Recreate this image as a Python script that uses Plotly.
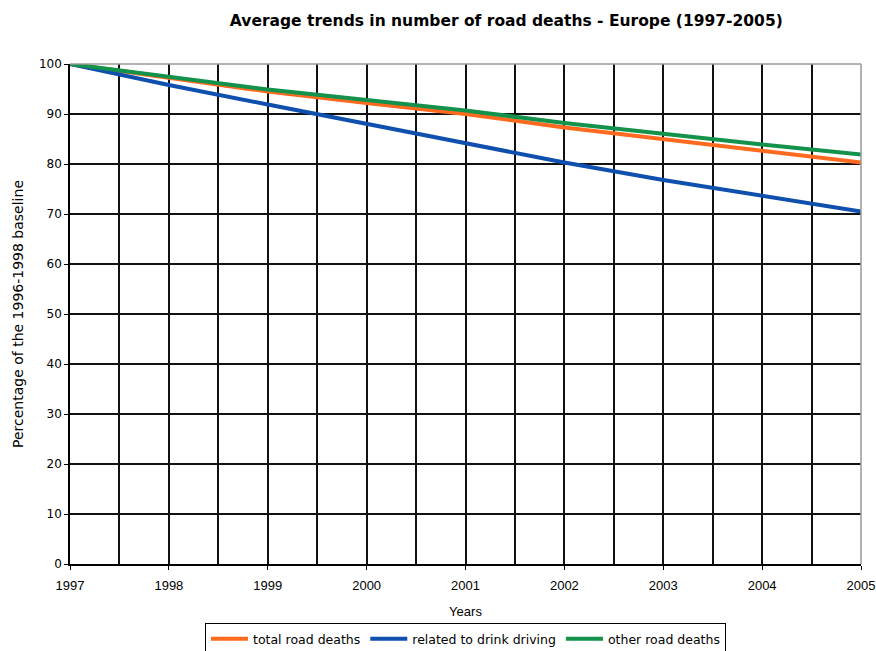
import plotly.graph_objects as go

years = [1997, 1998, 1999, 2000, 2001, 2002, 2003, 2004, 2005]
total_road_deaths = [100, 97.2, 94.5, 92.2, 90.0, 87.3, 84.9, 82.6, 80.3]
drink_driving = [100, 95.8, 91.9, 88.0, 84.3, 80.3, 76.8, 73.7, 70.5]
other_road_deaths = [100, 97.4, 94.9, 92.8, 90.7, 88.2, 86.0, 83.9, 81.9]

series = [
    ("total road deaths", total_road_deaths, "#FF6A1F"),
    ("related to drink driving", drink_driving, "#0F4FAE"),
    ("other road deaths", other_road_deaths, "#12924A"),
]

fig = go.Figure()
for name, vals, color in series:
    fig.add_trace(go.Scatter(x=years, y=vals, mode="lines", name=name,
                             line=dict(color=color, width=4)))

wide = "DejaVu Sans, Verdana, sans-serif"
narrow = "Liberation Sans Narrow, Arial Narrow, Liberation Sans, sans-serif"
fig.update_layout(
    width=876, height=651,
    margin=dict(l=70, r=15, t=64, b=87, autoexpand=False),
    paper_bgcolor="white", plot_bgcolor="white",
    font=dict(family=wide, size=12, color="black"),
    title=dict(text="<b>Average trends in number of road deaths - Europe (1997-2005)</b>",
               x=0.578, xanchor="center", y=0.968, yanchor="middle",
               font=dict(size=15.5, family=wide, color="black")),
    showlegend=True,
    legend=dict(orientation="h", x=0.5, xanchor="center", y=-0.118, yanchor="top",
                bordercolor="black", borderwidth=1, font=dict(size=12.5, family=wide),
                itemwidth=37, tracegroupgap=0),
)
fig.update_xaxes(
    range=[1997, 2005], tickmode="array", tickvals=years,
    ticktext=[str(y) for y in years],
    tickfont=dict(family=narrow, size=13),
    ticklabelstandoff=5,
    showgrid=True, gridcolor="#111111", gridwidth=1.5,
    minor=dict(dtick=0.5, tick0=1997, showgrid=True, gridcolor="#111111", gridwidth=1.5),
    showline=True, linecolor="black", linewidth=1.5, mirror=False,
    ticks="outside", ticklen=4, tickcolor="black",
    title=dict(text="Years", font=dict(size=13, family=narrow), standoff=15),
    zeroline=False, automargin=False,
)
fig.update_yaxes(
    range=[0, 100], dtick=10, showgrid=True, gridcolor="#111111", gridwidth=1.5,
    tickfont=dict(family=wide, size=12),
    showline=True, linecolor="black", linewidth=1.5,
    ticks="outside", ticklen=4, tickcolor="black",
    title=dict(text="Percentage of the 1996-1998 baseline", font=dict(size=14, family=wide), standoff=12),
    zeroline=False, automargin=False,
)
fig.add_shape(type="line", xref="paper", yref="paper", x0=0, x1=1, y0=1, y1=1,
              line=dict(color="#999999", width=1.5))
fig.add_shape(type="line", xref="paper", yref="paper", x0=1, x1=1, y0=0, y1=1,
              line=dict(color="#999999", width=1.5))

fig.write_html("out.html")
